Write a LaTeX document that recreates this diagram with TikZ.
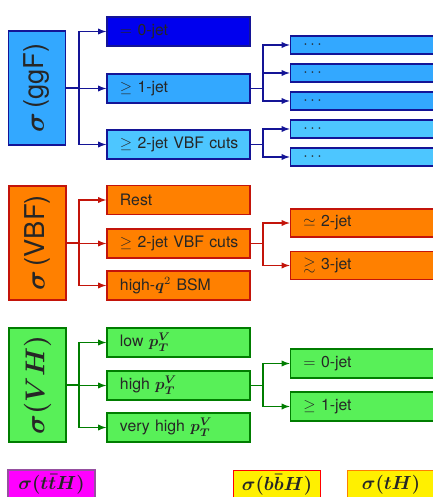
\documentclass[tikz,border=0pt]{standalone}
\usepackage{fontspec}
\setmainfont{TeX Gyre Heros}
\usepackage{amsmath,amssymb}
\definecolor{ggfmain}{RGB}{51,168,255}
\definecolor{ggflight}{RGB}{77,198,255}
\definecolor{ggfdark}{RGB}{0,0,238}
\definecolor{ggfedge}{RGB}{20,20,150}
\definecolor{vbffill}{RGB}{255,128,0}
\definecolor{vbfedge}{RGB}{195,20,10}
\definecolor{vhfill}{RGB}{88,240,88}
\definecolor{vhedge}{RGB}{0,125,0}
\definecolor{tthfill}{RGB}{255,0,255}
\definecolor{tthedge}{RGB}{150,80,160}
\definecolor{yfill}{RGB}{255,240,0}
\tikzstyle{process}=[draw, line width=1pt, minimum width=36pt, minimum height=72.2pt, inner sep=0pt, text=black!85]
\tikzstyle{bin}=[draw, line width=1pt, text width=74.1pt, inner xsep=8.2pt, align=left, minimum height=18.4pt, inner ysep=0pt, text=black!85]
\tikzstyle{subbin}=[bin, minimum height=17.7pt]
\tikzstyle{tinybin}=[bin, minimum height=11.4pt]
\tikzstyle{extra}=[draw, line width=1pt, minimum width=55pt, minimum height=17.7pt, inner sep=0pt, font=\large\boldmath, text=black!85]
\tikzstyle{ggf}=[fill=ggfmain, draw=ggfedge]
\tikzstyle{vbf}=[fill=vbffill, draw=vbfedge]
\tikzstyle{vh}=[fill=vhfill, draw=vhedge]
\tikzstyle{split}=[line width=0.8pt]
\tikzstyle{branch}=[split, -latex]
\begin{document}
\begin{tikzpicture}[x=0.633pt, y=-0.633pt]
  \useasboundingbox (0,0) rectangle (433,497);

  % ggF
  \node[process, ggf] (ggF) at (37,88) {\rotatebox{90}{\LARGE$\boldsymbol{\sigma}$\,(ggF)}};
  \node[bin, ggf, fill=ggfdark] (zero) at (178.5,31.5) {$=$ 0-jet};
  \node[bin, ggf] (one) at (178.5,88.5) {$\geq$ 1-jet};
  \node[bin, ggf, fill=ggflight] (two) at (178.5,144.5) {\mbox{$\geq$ 2-jet VBF cuts}};
  \node[tinybin, ggf] (oneA) at (362,45) {$\cdots$};
  \node[tinybin, ggf] (oneB) at (362,73) {$\cdots$};
  \node[tinybin, ggf] (oneC) at (362,101) {$\cdots$};
  \node[tinybin, ggf, fill=ggflight] (twoA) at (362,129) {$\cdots$};
  \node[tinybin, ggf, fill=ggflight] (twoB) at (362,157) {$\cdots$};
  \coordinate (ggFsplit) at (79,88);
  \coordinate (onesplit) at (263,88.5);
  \coordinate (twosplit) at (263,144.5);
  \begin{scope}[draw=ggfedge]
    \draw[split] (ggF.east) -- (ggFsplit);
    \foreach \b in {zero, one, two}
      \draw[branch] (ggFsplit) |- (\b.west);
    \draw[split] (one.east) -- (onesplit);
    \foreach \b in {oneA, oneB, oneC}
      \draw[branch] (onesplit) |- (\b.west);
    \draw[split] (two.east) -- (twosplit);
    \foreach \b in {twoA, twoB}
      \draw[branch] (twosplit) |- (\b.west);
  \end{scope}

  % VBF
  \node[process, vbf] (VBF) at (37.5,243) {\rotatebox{90}{\LARGE$\boldsymbol{\sigma}$\,(VBF)}};
  \node[bin, vbf] (rest) at (178.5,200) {Rest};
  \node[bin, vbf] (cuts) at (178.5,243.5) {\mbox{$\geq$ 2-jet VBF cuts}};
  \node[bin, vbf] (bsm) at (178.5,285.5) {high-$\boldsymbol{q}^2$ BSM};
  \node[subbin, vbf] (twojet) at (362,223) {$\simeq$ 2-jet};
  \node[subbin, vbf] (threejet) at (362,265.5) {$\gtrsim$ 3-jet};
  \coordinate (VBFsplit) at (79,243);
  \coordinate (cutssplit) at (263,243.5);
  \begin{scope}[draw=vbfedge]
    \draw[split] (VBF.east) -- (VBFsplit);
    \foreach \b in {rest, cuts, bsm}
      \draw[branch] (VBFsplit) |- (\b.west);
    \draw[split] (cuts.east) -- (cutssplit);
    \foreach \b in {twojet, threejet}
      \draw[branch] (cutssplit) |- (\b.west);
  \end{scope}

  % VH
  \node[process, vh] (VH) at (37.5,385) {\rotatebox{90}{\LARGE\boldmath$\sigma(VH)$}};
  \node[bin, vh] (low) at (178.5,342.5) {low $\boldsymbol{p_T^V}$};
  \node[bin, vh] (high) at (178.5,385.5) {high $\boldsymbol{p_T^V}$};
  \node[bin, vh] (vhigh) at (178.5,427.5) {very high $\boldsymbol{p_T^V}$};
  \node[bin, vh] (nojet) at (362,363.5) {$=$ 0-jet};
  \node[bin, vh] (anyjet) at (362,406.5) {$\geq$ 1-jet};
  \coordinate (VHsplit) at (79,385);
  \coordinate (highsplit) at (263,385.5);
  \begin{scope}[draw=vhedge]
    \draw[split] (VH.east) -- (VHsplit);
    \foreach \b in {low, high, vhigh}
      \draw[branch] (VHsplit) |- (\b.west);
    \draw[split] (high.east) -- (highsplit);
    \foreach \b in {nojet, anyjet}
      \draw[branch] (highsplit) |- (\b.west);
  \end{scope}

  % small channels
  \node[extra, fill=tthfill, draw=tthedge] (ttH) at (51.5,484) {$\sigma(t\bar{t}H)$};
  \node[extra, fill=yfill, draw=red] (bbH) at (277,484.5) {$\sigma(b\bar{b}H)$};
  \node[extra, fill=yfill, draw=orange] (tH) at (391,484.5) {$\sigma(tH)$};
\end{tikzpicture}
\end{document}
